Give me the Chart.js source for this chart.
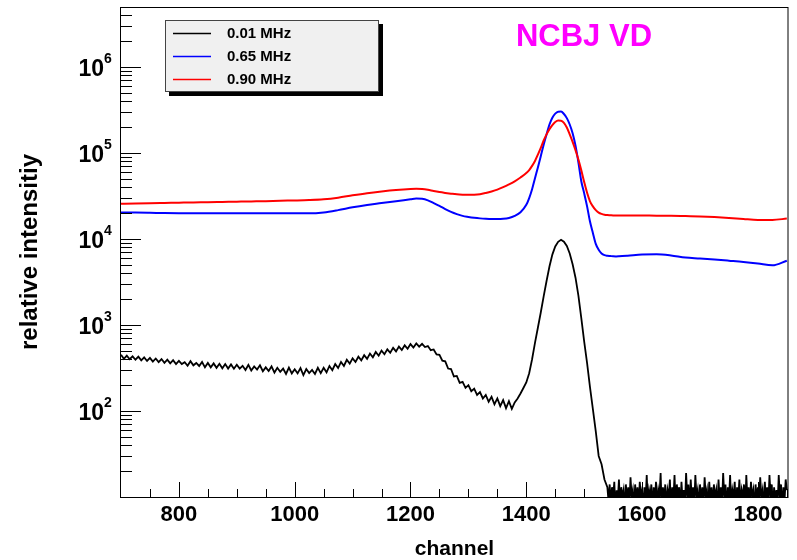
<!DOCTYPE html>
<html>
<head>
<meta charset="utf-8">
<script src="https://cdn.jsdelivr.net/npm/chart.js@4/dist/chart.umd.min.js"></script>
<style>
html,body{margin:0;padding:0;background:#fff;}
canvas{display:block;}
</style>
</head>
<body>
<canvas id="c" width="797" height="560" style="width:797px;height:560px"></canvas>
<script>
// ---------- DATA ----------
const seriesLabels = ['0.01 MHz', '0.65 MHz', '0.90 MHz'];

// channels for the 0.01 MHz (black) spectrum
const chBlack = [
 700,705,710,715,720,725,730,735,740,745,
 750,755,760,765,770,775,780,785,790,795,
 800,805,810,815,820,825,830,835,840,845,
 850,855,860,865,870,875,880,885,890,895,
 900,905,910,915,920,925,930,935,940,945,
 950,955,960,965,970,975,980,985,990,995,
 1000,1005,1010,1015,1020,1025,1030,1035,1040,1045,
 1050,1055,1060,1065,1070,1075,1080,1085,1090,1095,
 1100,1105,1110,1115,1120,1125,1130,1135,1140,1145,
 1150,1155,1160,1165,1170,1175,1180,1185,1190,1195,
 1200,1205,1210,1215,1220,1225,1230,1235,1240,1245,
 1250,1255,1260,1265,1270,1275,1280,1285,1290,1295,
 1300,1305,1310,1315,1320,1325,1330,1335,1340,1345,
 1350,1355,1360,1365,1370,1375,1380,1385,1390,1395,
 1400,1405,1410,1415,1420,1425,1430,1435,1440,1445,
 1450,1455,1460,1465,1470,1475,1480,1485,1490,1495,
 1500,1505,1510,1515,1520,1525,1530,1535,1540,
 1542,1544,1546,1548,1550,1552,1554,1556,1558,1560,
 1562,1564,1566,1568,1570,1572,1574,1576,1578,1580,
 1582,1584,1586,1588,1590,1592,1594,1596,1598,1600,
 1602,1604,1606,1608,1610,1612,1614,1616,1618,1620,
 1622,1624,1626,1628,1630,1632,1634,1636,1638,1640,
 1642,1644,1646,1648,1650,1652,1654,1656,1658,1660,
 1662,1664,1666,1668,1670,1672,1674,1676,1678,1680,
 1682,1684,1686,1688,1690,1692,1694,1696,1698,1700,
 1702,1704,1706,1708,1710,1712,1714,1716,1718,1720,
 1722,1724,1726,1728,1730,1732,1734,1736,1738,1740,
 1742,1744,1746,1748,1750,1752,1754,1756,1758,1760,
 1762,1764,1766,1768,1770,1772,1774,1776,1778,1780,
 1782,1784,1786,1788,1790,1792,1794,1796,1798,1800,
 1802,1804,1806,1808,1810,1812,1814,1816,1818,1820,
 1822,1824,1826,1828,1830,1832,1834,1836,1838,1840,
 1842,1844,1846,1848,1850
];
const black = [
 450,405,440,400,432,395,428,388,420,382,
 415,375,408,370,402,364,396,358,390,352,
 384,352,370,336,380,340,362,334,372,322,
 362,322,358,318,354,314,352,312,348,310,
 346,312,336,300,344,296,330,304,340,290,
 322,292,330,280,318,286,312,270,320,274,
 306,274,316,262,308,276,300,270,318,276,
 318,282,334,298,352,316,372,334,394,356,
 410,372,428,388,446,404,466,422,486,440,
 504,458,522,476,542,494,562,512,580,530,
 600,548,612,560,605,555,570,510,520,455,
 450,385,378,312,308,252,256,212,218,186,
 200,170,182,154,166,140,154,128,146,120,
 140,114,134,108,130,106,126,140,160,185,
 215,275,400,620,930,1400,2150,3250,4800,6600,
 8200,9300,9800,9300,8300,6800,5100,3550,2200,1200,
 640,360,190,105,58,30,24,16,13,
 9,14,8,13,10,15,7,12,9,16,
 8,13,10,12,7,14,9,13,8,17,
 10,12,7,14,9,13,8,15,10,12,
 7,13,9,18,8,12,10,14,7,13,
 9,15,8,12,10,19,7,13,9,14,
 8,12,10,16,7,13,9,18,8,14,
 10,13,7,15,9,12,8,19,10,14,
 7,16,9,13,8,18,10,12,7,14,
 9,13,8,17,10,12,7,15,9,13,
 8,14,10,12,7,16,9,13,8,19,
 10,14,7,13,9,18,8,12,10,15,
 7,13,9,16,8,12,10,14,7,18,
 9,13,8,15,10,12,7,14,9,13,
 8,17,10,12,7,15,9,13,8,18,
 10,14,7,13,9,12,8,18,10,14,
 7,13,9,16,12
];

// channels for the 0.65 MHz (blue) and 0.90 MHz (red) spectra
const chRB = [
 700,725,750,775,800,825,850,875,900,925,950,975,1000,1025,1050,1075,1100,1125,1150,1175,1200,
 1210,1220,1230,1240,1250,1260,1270,1280,1290,1300,1310,1320,1330,1340,1350,1360,1370,1380,1390,
 1400,1405,1410,1415,1420,1425,1430,1435,1440,1445,
 1450,1455,1460,1465,1470,1475,1480,1485,1490,1495,
 1500,1505,1510,1515,1520,1525,1530,1535,1540,1545,
 1550,1555,1560,
 1575,1600,1625,1650,1675,1700,1725,1750,1775,1800,1825,1850
];
const blue = [
 20400,20300,20200,20100,20000,19900,19900,19900,19900,19900,19900,19900,19900,19900,20400,21700,23400,24900,26200,27600,29000,
 29600,29400,28200,26200,24300,22300,20700,19500,18600,18100,17700,17400,17200,17100,17100,17200,17600,18600,20500,
 25000,30000,38000,51000,68000,92000,125000,165000,215000,258000,
 288000,303000,304000,285000,255000,215000,170000,122000,78000,47000,
 34000,24000,16000,11800,8800,7500,6800,6500,6400,6350,
 6300,6280,6300,
 6400,6600,6650,6450,6100,5950,5780,5600,5420,5200,4950,5600
];
const red = [
 25700,25900,26100,26300,26500,26700,26800,27000,27200,27400,27600,27900,28100,28400,29000,30300,32300,34200,35800,37200,38200,
 38400,38200,37400,36200,35200,34400,33700,33100,32800,32700,32800,33300,34400,35800,37600,40200,43300,47000,52000,
 58500,63500,71000,81000,96000,115000,140000,165000,190000,212000,
 230000,239000,238000,225000,198000,165000,135000,108000,84000,63000,
 46000,34500,27500,24000,21700,20300,19600,19200,19000,18900,
 18800,18800,18800,
 18800,18800,18700,18700,18500,18300,18000,17600,17100,16700,16700,17300
];

// tick labels
const xTicks = [800, 1000, 1200, 1400, 1600, 1800];
const xTickLabels = ['800', '1000', '1200', '1400', '1600', '1800'];
const xMinorTicks = [750,850,900,950,1050,1100,1150,1250,1300,1350,1450,1500,1550,1650,1700,1750,1850];
const yTicks = [100, 1000, 10000, 100000, 1000000];
const yTickBase = ['10', '10', '10', '10', '10'];
const yTickExp = ['2', '3', '4', '5', '6'];
const yMinorTicks = [20,30,40,50,60,70,80,90,200,300,400,500,600,700,800,900,
  2000,3000,4000,5000,6000,7000,8000,9000,20000,30000,40000,50000,60000,70000,80000,90000,
  200000,300000,400000,500000,600000,700000,800000,900000,2000000,3000000,4000000];

// ---------- CHART ----------
const FONT = "'Liberation Sans', Arial, Helvetica, sans-serif";
const toPts = (xs, ys) => xs.map((c, i) => ({x: c, y: ys[i]}));

const rootStyle = {
  id: 'rootStyle',
  afterDraw(chart) {
    const {ctx, chartArea: a, scales: {x, y}} = chart;
    ctx.save();
    ctx.strokeStyle = '#000';
    ctx.lineWidth = 1;
    // frame
    ctx.strokeRect(a.left - 0.5, a.top + 0.5, a.right - a.left + 0.5, a.bottom - a.top);
    // x ticks (inward)
    ctx.beginPath();
    xTicks.forEach(v => { const px = Math.round(x.getPixelForValue(v)) + 0.5; ctx.moveTo(px, a.bottom); ctx.lineTo(px, a.bottom - 15); });
    xMinorTicks.forEach(v => { const px = Math.round(x.getPixelForValue(v)) + 0.5; ctx.moveTo(px, a.bottom); ctx.lineTo(px, a.bottom - 8); });
    // y ticks (inward)
    yTicks.forEach(v => { const py = Math.round(y.getPixelForValue(v)) + 0.5; ctx.moveTo(a.left, py); ctx.lineTo(a.left + 20, py); });
    yMinorTicks.forEach(v => { const py = Math.round(y.getPixelForValue(v)) + 0.5; ctx.moveTo(a.left, py); ctx.lineTo(a.left + 11, py); });
    ctx.stroke();
    // exponents of the y labels
    ctx.fillStyle = '#000';
    ctx.font = 'bold 14px ' + FONT;
    ctx.textAlign = 'left';
    ctx.textBaseline = 'alphabetic';
    yTicks.forEach((v, i) => { const py = y.getPixelForValue(v); ctx.fillText(yTickExp[i], a.left - 17, py - 4); });
    // title
    ctx.fillStyle = '#ff00ff';
    ctx.font = 'bold 31px ' + FONT;
    ctx.textAlign = 'center';
    ctx.textBaseline = 'middle';
    ctx.fillText('NCBJ VD', 584, 37);
    // legend box with shadow
    ctx.fillStyle = '#000';
    ctx.fillRect(169, 24, 214, 72);
    ctx.fillStyle = '#f0f0f0';
    ctx.fillRect(165, 20, 214, 72);
    ctx.strokeStyle = '#444';
    ctx.strokeRect(165.5, 20.5, 213, 71);
    const order = [0, 1, 2];
    const rows = [33, 56, 79];
    ctx.font = 'bold 15px ' + FONT;
    ctx.textAlign = 'left';
    ctx.textBaseline = 'middle';
    order.forEach((di, r) => {
      const ds = chart.data.datasets[di];
      ctx.strokeStyle = ds.borderColor;
      ctx.lineWidth = 1.5;
      ctx.beginPath();
      ctx.moveTo(173, rows[r] + 0.5); ctx.lineTo(211, rows[r] + 0.5);
      ctx.stroke();
      ctx.fillStyle = '#000';
      ctx.fillText(ds.label, 227, rows[r] + 1);
    });
    ctx.restore();
  }
};

new Chart(document.getElementById('c'), {
  type: 'line',
  data: {
    datasets: [
      {label: seriesLabels[0], data: toPts(chBlack, black), borderColor: '#000000', borderWidth: 1.8, pointRadius: 0, tension: 0, order: 2},
      {label: seriesLabels[1], data: toPts(chRB, blue), borderColor: '#0000ff', borderWidth: 2, pointRadius: 0, cubicInterpolationMode: 'monotone', order: 1},
      {label: seriesLabels[2], data: toPts(chRB, red), borderColor: '#ff0000', borderWidth: 2, pointRadius: 0, cubicInterpolationMode: 'monotone', order: 0}
    ]
  },
  options: {
    responsive: false,
    animation: false,
    events: [],
    layout: {padding: {top: 7, right: 9, left: 0, bottom: 0}},
    plugins: {legend: {display: false}, tooltip: {enabled: false}, title: {display: false}},
    scales: {
      x: {
        type: 'linear', min: 700, max: 1852,
        afterBuildTicks: s => { s.ticks = xTicks.map(v => ({value: v})); },
        afterFit: s => { s.height = 63; s.paddingLeft = 0; s.paddingRight = 0; },
        grid: {display: false, drawTicks: false},
        border: {display: false},
        ticks: {
          color: '#000', padding: 7, maxRotation: 0, autoSkip: false,
          font: {family: FONT, size: 22, weight: 'bold', lineHeight: 1},
          callback: (v, i) => xTickLabels[i]
        },
        title: {display: true, text: 'channel', color: '#000', padding: {top: 0, bottom: 0},
          font: {family: FONT, size: 21, weight: 'bold', lineHeight: 1}}
      },
      y: {
        type: 'logarithmic', min: 10, max: 5000000,
        afterBuildTicks: s => { s.ticks = yTicks.map(v => ({value: v})); },
        afterFit: s => { s.width = 121; s.paddingTop = 0; s.paddingBottom = 0; },
        grid: {display: false, drawTicks: false},
        border: {display: false},
        ticks: {
          color: '#000', padding: 17, labelOffset: 3, autoSkip: false,
          font: {family: FONT, size: 23, weight: 'bold', lineHeight: 1},
          callback: (v, i) => yTickBase[i]
        },
        title: {display: true, text: 'relative intensitiy', color: '#000', padding: {top: 18, bottom: 0},
          font: {family: FONT, size: 24, weight: 'bold', lineHeight: 1}}
      }
    }
  },
  plugins: [rootStyle]
});
</script>
</body>
</html>
